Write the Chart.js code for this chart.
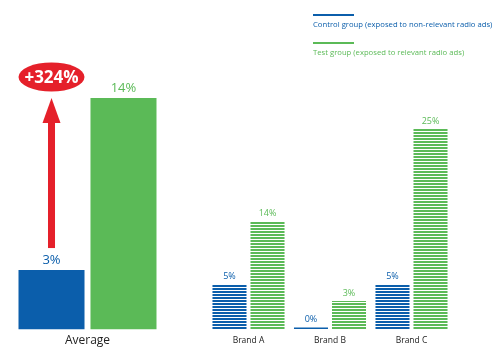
<!DOCTYPE html>
<html>
<head>
<meta charset="utf-8">
<script src="https://cdn.jsdelivr.net/npm/chart.js@4.4.0/dist/chart.umd.min.js"></script>
<style>
body { margin: 0; background: #fff; width: 500px; height: 352px; overflow: hidden; position: relative; }
#chartAverage { position: absolute; left: 0; top: 0; }
#chartBrands { position: absolute; left: 180px; top: 0; }
</style>
</head>
<body>
<canvas id="chartAverage" width="175" height="352"></canvas>
<canvas id="chartBrands" width="320" height="352"></canvas>
<script>
// data
var avgLabels = ["Average"];
var avgControl = [3.6];
var avgTest = [14];
var avgControlText = ["3%"];
var avgTestText = ["14%"];
var upliftText = "+324%";

var brandLabels = ["Brand A", "Brand B", "Brand C"];
var brandControl = [5.7, 0.3, 5.7];
var brandTest = [13.5, 3.6, 25];
var brandControlText = ["5%", "0%", "5%"];
var brandTestText = ["14%", "3%", "25%"];

var seriesNames = ["Control group (exposed to non-relevant radio ads)", "Test group (exposed to relevant radio ads)"];

var BLUE = "#0b5eab";
var GREEN = "#5bba57";
var FONT = "'Open Sans', 'Noto Sans', sans-serif";

function stripes(color) {
    var c = document.createElement("canvas");
    c.width = 4;
    c.height = 3;
    var g = c.getContext("2d");
    g.fillStyle = "#ffffff";
    g.fillRect(0, 0, 4, 3);
    g.fillStyle = color;
    g.fillRect(0, 0, 4, 2);
    return g.createPattern(c, "repeat");
}

// value labels above each bar
function valueLabels(texts, size) {
    return {
        id: "valueLabels",
        afterDatasetsDraw: function (chart) {
            var ctx = chart.ctx;
            ctx.save();
            ctx.font = size + "px " + FONT;
            ctx.textAlign = "center";
            ctx.textBaseline = "bottom";
            chart.data.datasets.forEach(function (ds, i) {
                var meta = chart.getDatasetMeta(i);
                ctx.fillStyle = i == 0 ? BLUE : GREEN;
                meta.data.forEach(function (bar, j) {
                    ctx.fillText(texts[i][j], bar.x, bar.y - 3);
                });
            });
            ctx.restore();
        }
    };
}

var upliftArrow = {
    id: "upliftArrow",
    afterDatasetsDraw: function (chart) {
        var ctx = chart.ctx;
        var bar = chart.getDatasetMeta(0).data[0];
        var x = bar.x;
        var bottom = bar.y - 22;
        var tip = chart.chartArea.top;
        ctx.save();
        ctx.fillStyle = "#e5202a";
        ctx.fillRect(x - 3.5, tip + 24, 7, bottom - tip - 24);
        ctx.beginPath();
        ctx.moveTo(x, tip);
        ctx.lineTo(x + 9, tip + 25);
        ctx.lineTo(x - 9, tip + 25);
        ctx.closePath();
        ctx.fill();
        ctx.beginPath();
        ctx.ellipse(x, tip - 21, 33, 14.5, 0, 0, Math.PI * 2);
        ctx.fill();
        ctx.fillStyle = "#ffffff";
        ctx.font = "bold 17px " + FONT;
        ctx.textAlign = "center";
        ctx.textBaseline = "middle";
        ctx.fillText(upliftText, x, tip - 20);
        ctx.restore();
    }
};

var lineLegend = {
    id: "lineLegend",
    afterDraw: function (chart) {
        var ctx = chart.ctx;
        var x = 133;
        ctx.save();
        ctx.font = "7.7px " + FONT;
        ctx.textBaseline = "middle";
        chart.data.datasets.forEach(function (ds, i) {
            var y = 15 + i * 28;
            ctx.fillStyle = i == 0 ? BLUE : GREEN;
            ctx.fillRect(x, y - 1, 41, 2);
            ctx.fillText(ds.label, x, y + 10);
        });
        ctx.restore();
    }
};

function axes(max, tickSize, tickPad) {
    return {
        x: {
            grid: { display: false, drawTicks: false },
            border: { display: false },
            ticks: { color: "#222", font: { family: FONT, size: tickSize }, padding: tickPad }
        },
        y: { display: false, min: 0, max: max }
    };
}

new Chart(document.getElementById("chartAverage"), {
    type: "bar",
    data: {
        labels: avgLabels,
        datasets: [
            { label: seriesNames[0], data: avgControl, backgroundColor: BLUE, categoryPercentage: 0.941, barPercentage: 0.917 },
            { label: seriesNames[1], data: avgTest, backgroundColor: GREEN, categoryPercentage: 0.941, barPercentage: 0.917 }
        ]
    },
    options: {
        responsive: false,
        animation: false,
        layout: { padding: { left: 11, right: 11, top: 98, bottom: 0 } },
        plugins: { legend: { display: false }, tooltip: { enabled: false } },
        scales: axes(14, 12, 4)
    },
    plugins: [valueLabels([avgControlText, avgTestText], 13), upliftArrow]
});

new Chart(document.getElementById("chartBrands"), {
    type: "bar",
    data: {
        labels: brandLabels,
        datasets: [
            { label: seriesNames[0], data: brandControl, backgroundColor: stripes(BLUE), categoryPercentage: 0.933, barPercentage: 0.895 },
            { label: seriesNames[1], data: brandTest, backgroundColor: stripes(GREEN), categoryPercentage: 0.933, barPercentage: 0.895 }
        ]
    },
    options: {
        responsive: false,
        animation: false,
        layout: { padding: { left: 27.75, right: 47.75, top: 129, bottom: 0 } },
        plugins: { legend: { display: false }, tooltip: { enabled: false } },
        scales: axes(25, 8.5, 6)
    },
    plugins: [valueLabels([brandControlText, brandTestText], 9), lineLegend]
});
</script>
</body>
</html>
